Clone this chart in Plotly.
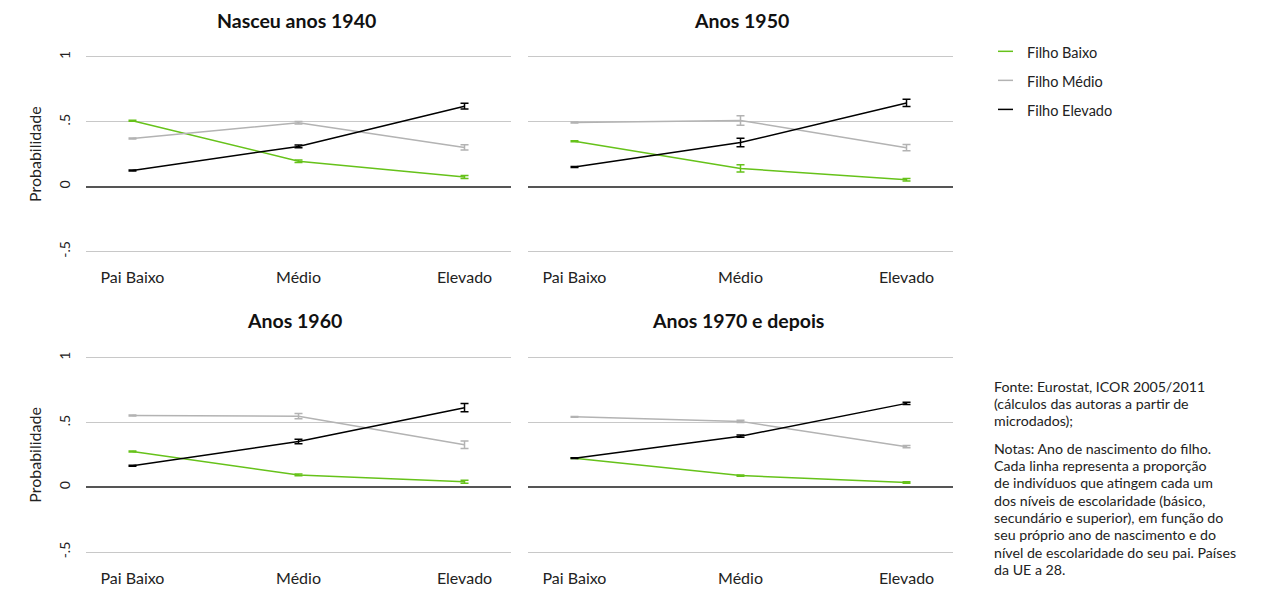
import plotly.graph_objects as go

categories = ["Pai Baixo", "Médio", "Elevado"]
panel_titles = ["Nasceu anos 1940", "Anos 1950", "Anos 1960", "Anos 1970 e depois"]
series_names = ["Filho Baixo", "Filho Médio", "Filho Elevado"]

# values per panel: [Baixo, Médio, Elevado] x categories
baixo_1940 = [0.508, 0.196, 0.074]
medio_1940 = [0.371, 0.493, 0.302]
elevado_1940 = [0.125, 0.310, 0.620]
baixo_1940_err = [0.004, 0.010, 0.012]
medio_1940_err = [0.004, 0.010, 0.020]
elevado_1940_err = [0.004, 0.010, 0.022]

baixo_1950 = [0.350, 0.140, 0.053]
medio_1950 = [0.495, 0.510, 0.300]
elevado_1950 = [0.152, 0.340, 0.645]
baixo_1950_err = [0.004, 0.028, 0.010]
medio_1950_err = [0.004, 0.036, 0.024]
elevado_1950_err = [0.004, 0.032, 0.028]

baixo_1960 = [0.276, 0.096, 0.043]
medio_1960 = [0.554, 0.549, 0.329]
elevado_1960 = [0.167, 0.354, 0.615]
baixo_1960_err = [0.004, 0.006, 0.012]
medio_1960_err = [0.004, 0.020, 0.029]
elevado_1960_err = [0.004, 0.018, 0.032]

baixo_1970 = [0.225, 0.091, 0.038]
medio_1970 = [0.544, 0.509, 0.314]
elevado_1970 = [0.225, 0.395, 0.648]
baixo_1970_err = [0.003, 0.005, 0.006]
medio_1970_err = [0.003, 0.008, 0.008]
elevado_1970_err = [0.003, 0.008, 0.008]

y_tickvals = [-0.5, 0, 0.5, 1]
y_ticktext = ["-.5", "0", ".5", "1"]

note_lines_1 = ["Fonte: Eurostat, ICOR 2005/2011",
                "(cálculos das autoras a partir de",
                "microdados);"]
note_lines_2 = ["Notas: Ano de nascimento do filho.",
                "Cada linha representa a proporção",
                "de indivíduos que atingem cada um",
                "dos níveis de escolaridade (básico,",
                "secundário e superior), em função do",
                "seu próprio ano de nascimento e do",
                "nível de escolaridade do seu pai. Países",
                "da UE a 28."]

colors = ["#66c21a", "#b3b3b3", "#000000"]

panels = [
    ([baixo_1940, medio_1940, elevado_1940], [baixo_1940_err, medio_1940_err, elevado_1940_err]),
    ([baixo_1950, medio_1950, elevado_1950], [baixo_1950_err, medio_1950_err, elevado_1950_err]),
    ([baixo_1960, medio_1960, elevado_1960], [baixo_1960_err, medio_1960_err, elevado_1960_err]),
    ([baixo_1970, medio_1970, elevado_1970], [baixo_1970_err, medio_1970_err, elevado_1970_err]),
]

OFFX, OFFY = 8, 7
W, H = 1270 - 16, 595 - 16
FONT = "Lato"


def px(x):
    return (x - OFFX) / W


def py(y):
    return 1 - (y - OFFY) / H


xdoms = [[px(86), px(511)], [px(528), px(953)]]
ydoms = [[py(260.9), py(50.1)], [py(566.3), py(355.7)]]

fig = go.Figure()

for p, (vals, errs) in enumerate(panels):
    axn = "" if p == 0 else str(p + 1)
    for s in range(3):
        fig.add_trace(go.Scatter(
            x=categories, y=vals[s],
            mode="lines",
            line=dict(color=colors[s], width=1.5),
            error_y=dict(type="data", array=errs[s], color=colors[s], thickness=1.5, width=4),
            name=series_names[s],
            showlegend=False,
            xaxis="x" + axn, yaxis="y" + axn,
        ))

layout = dict(
    width=W, height=H,
    margin=dict(l=0, r=0, t=0, b=0),
    paper_bgcolor="white", plot_bgcolor="white",
    font=dict(family=FONT, color="#222222", size=14),
    showlegend=False,
)

for p in range(4):
    axn = "" if p == 0 else str(p + 1)
    col, row = p % 2, p // 2
    layout["xaxis" + axn] = dict(
        domain=xdoms[col], anchor="y" + axn,
        range=[-0.28, 2.28], type="category",
        showgrid=False, zeroline=False, showline=False, ticks="",
        tickfont=dict(size=16, family=FONT, color="#222222"),
        ticklabelstandoff=8,
    )
    layout["yaxis" + axn] = dict(
        domain=ydoms[row], anchor="x" + axn,
        range=[-0.55, 1.05],
        tickvals=y_tickvals, ticktext=y_ticktext,
        showticklabels=(col == 0), tickangle=-90,
        tickfont=dict(size=14, family=FONT, color="#222222"),
        showgrid=True, gridcolor="#c8c8c8", gridwidth=1,
        zeroline=True, zerolinecolor="#555555", zerolinewidth=1.5,
        showline=False, ticks="",
        ticklabelstandoff=12,
        title=dict(text="Probabilidade" if col == 0 else "",
                   font=dict(size=16, family=FONT, color="#222222"), standoff=10),
    )
fig.update_layout(**layout)

title_pos = [(296, 20), (741, 20), (294, 324), (738, 324)]
for t, (tx, ty) in zip(panel_titles, title_pos):
    fig.add_annotation(text="<b>" + t + "</b>", x=px(tx), y=py(ty), xref="paper", yref="paper",
                       xanchor="center", yanchor="middle", showarrow=False,
                       font=dict(size=19.5, family=FONT, color="#111111"))

# manual legend
legend_y = [51, 80.5, 110]
for s in range(3):
    fig.add_shape(type="line", xref="paper", yref="paper",
                  x0=px(998), x1=px(1013), y0=py(legend_y[s]), y1=py(legend_y[s]),
                  line=dict(color=colors[s], width=1.5))
    fig.add_annotation(text=series_names[s], x=px(1025), y=py(legend_y[s] + 1), xref="paper", yref="paper",
                       xanchor="left", yanchor="middle", showarrow=False,
                       font=dict(size=14.5, family=FONT, color="#222222"))

for i, line in enumerate(note_lines_1):
    fig.add_annotation(text=line, x=px(992), y=py(391 + 17.6 * i), xref="paper", yref="paper",
                       xanchor="left", yanchor="middle", showarrow=False,
                       font=dict(size=14.2, family=FONT, color="#222222"))
for i, line in enumerate(note_lines_2):
    fig.add_annotation(text=line, x=px(992), y=py(454 + 17.6 * i), xref="paper", yref="paper",
                       xanchor="left", yanchor="middle", showarrow=False,
                       font=dict(size=14.2, family=FONT, color="#222222"))

fig.write_html("out.html")
